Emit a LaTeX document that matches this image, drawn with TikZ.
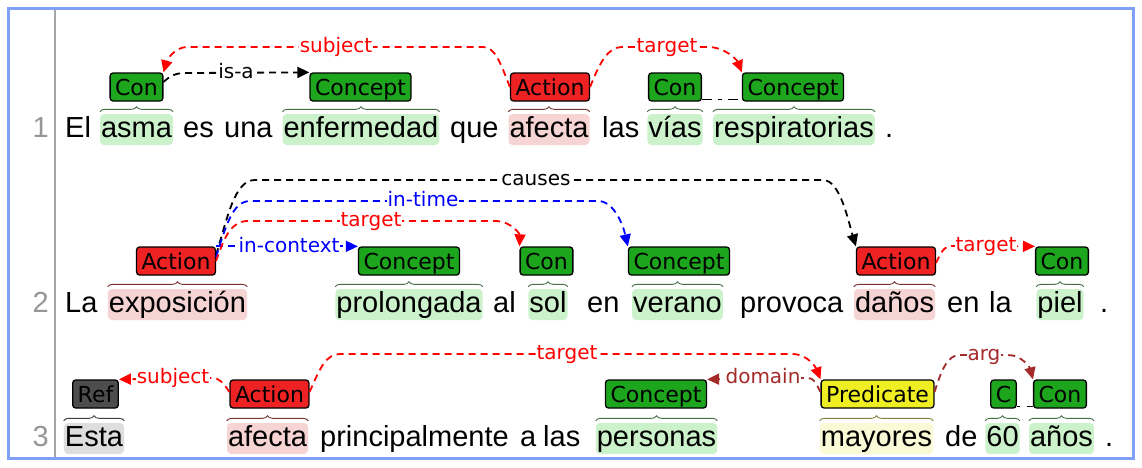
\documentclass[tikz,border=0pt]{standalone}
\usepackage{fontspec}
\setmainfont{Liberation Sans}
\newfontfamily\labfont{DejaVu Sans}
\usetikzlibrary{arrows.meta,decorations.pathreplacing}
\definecolor{frameblue}{RGB}{128,160,248}
\definecolor{gline}{RGB}{165,165,165}
\definecolor{boxgreen}{RGB}{30,165,30}
\definecolor{boxred}{RGB}{238,34,34}
\definecolor{boxgray}{RGB}{77,77,77}
\definecolor{boxyellow}{RGB}{238,238,34}
\definecolor{hlgreen}{RGB}{204,242,204}
\definecolor{hlred}{RGB}{247,212,212}
\definecolor{hlgray}{RGB}{222,222,222}
\definecolor{hlyellow}{RGB}{250,250,214}
\definecolor{brgreen}{RGB}{70,110,70}
\definecolor{brred}{RGB}{120,50,50}
\definecolor{brgray}{RGB}{60,60,60}
\definecolor{bryellow}{RGB}{130,130,60}
\definecolor{arcred}{RGB}{255,0,0}
\definecolor{arcblue}{RGB}{0,0,255}
\definecolor{arcbrown}{RGB}{165,42,42}
\definecolor{numgray}{RGB}{150,150,150}
\tikzset{
  word/.style={anchor=base, inner xsep=1pt, inner ysep=0pt, text height=23.5pt, text depth=7.5pt, font=\fontsize{29}{30}\selectfont},
  txt/.style={anchor=base west, inner sep=0pt, font=\fontsize{29}{30}\selectfont},
  hl/.style={word, fill=#1, rounded corners=4pt},
  linenum/.style={anchor=base east, inner sep=0pt, text=numgray, font=\fontsize{29}{30}\selectfont},
  lbl/.style={draw=black, line width=1.3pt, rounded corners=3pt, inner xsep=5pt, inner ysep=0pt, text height=22.5pt, text depth=5.5pt, font=\labfont\fontsize{22}{24}\selectfont, fill=#1},
  rel/.style={line width=1.8pt, dash pattern=on 7pt off 5pt, -{Triangle[length=12pt,width=11pt]}, draw=#1},
  arclab/.style={fill=white, inner xsep=1pt, inner ysep=0pt, text height=15pt, text depth=4pt, font=\labfont\fontsize{20}{22}\selectfont, text=#1},
  spanbrace/.style={decorate, decoration={brace, amplitude=5pt}, line width=0.9pt, draw=#1},
  frag/.style={black, line width=1.5pt}
}
\begin{document}
\begin{tikzpicture}[x=1pt,y=-1pt]
\fill[white] (0,0) rectangle (1142,467);
\useasboundingbox (0,0) rectangle (1142,467);
\draw[frameblue, line width=3pt] (8.5,8.5) rectangle (1133.5,458.5);
\draw[gline, line width=2.5pt] (55,10) -- (55,457);

% line numbers
\node[linenum] (n1) at (49,137.5) {1};
\node[linenum] (n2) at (49,312.5) {2};
\node[linenum] (n3) at (49,446.5) {3};

% ---------- row 1 ----------
\node[txt] (w1a) at (65,137.5) {El};
\node[hl=hlgreen] (w1b) at (136.5,137.5) {asma};
\node[txt] (w1c) at (183,137.5) {es};
\node[txt] (w1c2) at (224,137.5) {una};
\node[hl=hlgreen] (w1d) at (361,137.5) {enfermedad};
\node[txt] (w1e) at (450,137.5) {que};
\node[hl=hlred] (w1f) at (549,137.5) {afecta};
\node[txt] (w1g) at (602,137.5) {las};
\node[hl=hlgreen] (w1h) at (675,137.5) {vías};
\node[hl=hlgreen] (w1i) at (794,137.5) {respiratorias};
\node[txt] (w1j) at (885,137.5) {.};

\node[lbl=boxgreen] (b1a) at (136.5,87) {Con};
\node[lbl=boxgreen] (b1b) at (360.5,87) {Concept};
\node[lbl=boxred] (b1c) at (550,87) {Action};
\node[lbl=boxgreen] (b1d) at (675,87) {Con};
\node[lbl=boxgreen] (b1e) at (793,87) {Concept};

\draw[spanbrace=brgreen] ([yshift=2pt]w1b.north west) -- ([yshift=2pt]w1b.north east);
\draw[spanbrace=brgreen] ([yshift=2pt]w1d.north west) -- ([yshift=2pt]w1d.north east);
\draw[spanbrace=brred] ([yshift=2pt]w1f.north west) -- ([yshift=2pt]w1f.north east);
\draw[spanbrace=brgreen] ([yshift=2pt]w1h.north west) -- ([yshift=2pt]w1h.north east);
\draw[spanbrace=brgreen] ([yshift=2pt]w1i.north west) -- ([yshift=2pt]w1i.north east);

\draw[frag, dash pattern=on 10pt off 6pt on 4pt off 6pt] ([yshift=2pt]b1d.south east) -- ([yshift=2pt]b1e.south west);

\draw[rel=arcred] (b1c.west) .. controls (500,62) and (495,47) .. (483,47) -- (187,47) .. controls (175,47) and (167,60) .. (b1a.north east);
\draw[rel=black] ([yshift=5pt]b1a.east) .. controls (170,76) and (175,73) .. (186,73) -- (b1b.north west);
\draw[rel=arcred] (b1c.east) .. controls (600,62) and (608,47) .. (622,47) -- (708,47) .. controls (725,47) and (737,60) .. (b1e.north west);

\node[arclab=arcred] (l1a) at (336,47) {subject};
\node[arclab=black] (l1b) at (236,73) {is-a};
\node[arclab=arcred] (l1c) at (667,47) {target};

% ---------- row 2 ----------
\node[txt] (w2a) at (65,312.5) {La};
\node[hl=hlred] (w2b) at (177.5,312.5) {exposición};
\node[hl=hlgreen] (w2c) at (409,312.5) {prolongada};
\node[txt] (w2d) at (493,312.5) {al};
\node[hl=hlgreen] (w2e) at (548,312.5) {sol};
\node[txt] (w2f) at (587,312.5) {en};
\node[hl=hlgreen] (w2g) at (677.5,312.5) {verano};
\node[txt] (w2h) at (740,312.5) {provoca};
\node[hl=hlred] (w2i) at (894.5,312.5) {daños};
\node[txt] (w2j) at (947,312.5) {en};
\node[txt] (w2j2) at (989,312.5) {la};
\node[hl=hlgreen] (w2k) at (1060,312.5) {piel};
\node[txt] (w2l) at (1100,312.5) {.};

\node[lbl=boxred] (b2a) at (176,261) {Action};
\node[lbl=boxgreen] (b2b) at (409,261) {Concept};
\node[lbl=boxgreen] (b2c) at (546.5,261) {Con};
\node[lbl=boxgreen] (b2d) at (679,261) {Concept};
\node[lbl=boxred] (b2e) at (896,261) {Action};
\node[lbl=boxgreen] (b2f) at (1062,261) {Con};

\draw[spanbrace=brred] ([yshift=2pt]w2b.north west) -- ([yshift=2pt]w2b.north east);
\draw[spanbrace=brgreen] ([yshift=2pt]w2c.north west) -- ([yshift=2pt]w2c.north east);
\draw[spanbrace=brgreen] ([yshift=2pt]w2e.north west) -- ([yshift=2pt]w2e.north east);
\draw[spanbrace=brgreen] ([yshift=2pt]w2g.north west) -- ([yshift=2pt]w2g.north east);
\draw[spanbrace=brred] ([yshift=2pt]w2i.north west) -- ([yshift=2pt]w2i.north east);
\draw[spanbrace=brgreen] ([yshift=2pt]w2k.north west) -- ([yshift=2pt]w2k.north east);

\draw[rel=arcblue] (b2a.north east) -- (b2b.north west);
\draw[rel=black] ([yshift=6pt]b2a.east) .. controls (228,215) and (235,180) .. (255,180) -- (823,180) .. controls (840,180) and (848,220) .. (b2e.north west);
\draw[rel=arcblue] ([yshift=4pt]b2a.east) .. controls (226,225) and (233,201) .. (250,201) -- (598,201) .. controls (614,201) and (623,225) .. (b2d.north west);
\draw[rel=arcred] (b2a.east) .. controls (225,235) and (232,221) .. (248,221) -- (495,221) .. controls (512,221) and (520,235) .. (b2c.north west);
\draw[rel=arcred] ([yshift=-2pt]b2e.east) .. controls (941,252) and (944,246) .. (952,246) -- (b2f.north west);

\node[arclab=arcblue] (l2a) at (289,247) {in-context};
\node[arclab=black] (l2b) at (536,180) {causes};
\node[arclab=arcblue] (l2c) at (423,201) {in-time};
\node[arclab=arcred] (l2d) at (371,221) {target};
\node[arclab=arcred] (l2e) at (986,246) {target};

% ---------- row 3 ----------
\node[hl=hlgray] (w3a) at (94,446.5) {Esta};
\node[hl=hlred] (w3b) at (267.5,446.5) {afecta};
\node[txt] (w3c) at (320,446.5) {principalmente};
\node[txt] (w3c2) at (520,446.5) {a};
\node[txt] (w3c3) at (543,446.5) {las};
\node[hl=hlgreen] (w3d) at (656.5,446.5) {personas};
\node[hl=hlyellow] (w3e) at (876.5,446.5) {mayores};
\node[txt] (w3f) at (945,446.5) {de};
\node[hl=hlgreen] (w3g) at (1002.5,446.5) {60};
\node[hl=hlgreen] (w3h) at (1061.5,446.5) {años};
\node[txt] (w3i) at (1105,446.5) {.};

\node[lbl=boxgray] (b3a) at (95.5,394) {Ref};
\node[lbl=boxred] (b3b) at (269.5,394) {Action};
\node[lbl=boxgreen] (b3c) at (656,394) {Concept};
\node[lbl=boxyellow] (b3d) at (877.5,394) {Predicate};
\node[lbl=boxgreen] (b3e) at (1003.5,394) {C};
\node[lbl=boxgreen] (b3f) at (1060,394) {Con};

\draw[spanbrace=brgray] ([yshift=2pt]w3a.north west) -- ([yshift=2pt]w3a.north east);
\draw[spanbrace=brred] ([yshift=2pt]w3b.north west) -- ([yshift=2pt]w3b.north east);
\draw[spanbrace=brgreen] ([yshift=2pt]w3d.north west) -- ([yshift=2pt]w3d.north east);
\draw[spanbrace=bryellow] ([yshift=2pt]w3e.north west) -- ([yshift=2pt]w3e.north east);
\draw[spanbrace=brgreen] ([yshift=2pt]w3g.north west) -- ([yshift=2pt]w3g.north east);
\draw[spanbrace=brgreen] ([yshift=2pt]w3h.north west) -- ([yshift=2pt]w3h.north east);

\draw[frag, dash pattern=on 3pt off 7pt on 8pt off 5pt] ([yshift=2pt]b3e.south east) -- ([yshift=2pt]b3f.south west);

\draw[rel=arcred] ([yshift=2pt]b3b.west) .. controls (223,382) and (219,378) .. (212,378) -- (b3a.north east);
\draw[rel=arcred] ([yshift=2pt]b3b.east) .. controls (320,368) and (326,354) .. (340,354) -- (792,354) .. controls (808,354) and (816,368) .. (b3d.north west);
\draw[rel=arcbrown] ([yshift=2pt]b3d.west) .. controls (816,383) and (814,378) .. (808,378) -- (b3c.north east);
\draw[rel=arcbrown] ([yshift=2pt]b3d.east) .. controls (942,368) and (948,355) .. (960,355) -- (1008,355) .. controls (1022,355) and (1030,368) .. (b3f.north west);

\node[arclab=arcred] (l3a) at (173,378) {subject};
\node[arclab=arcred] (l3b) at (567,354) {target};
\node[arclab=arcbrown] (l3c) at (763,378) {domain};
\node[arclab=arcbrown] (l3d) at (984,355) {arg};
\end{tikzpicture}
\end{document}
